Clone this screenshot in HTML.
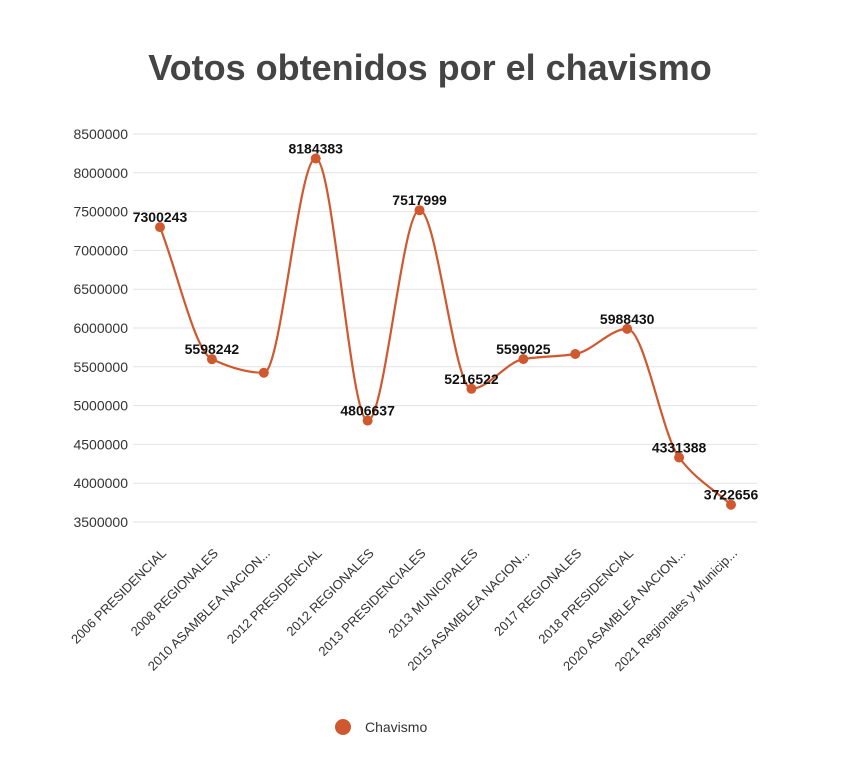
<!DOCTYPE html>
<html><head><meta charset="utf-8">
<style>
body{margin:0;background:#fff;}
svg{display:block;font-family:"Liberation Sans",Arial,sans-serif;}
</style></head>
<body>
<svg id="chart" width="855" height="757" viewBox="0 0 855 757">
<text x="430" y="80" text-anchor="middle" font-size="36" font-weight="bold" fill="#444">Votos obtenidos por el chavismo</text>
<g id="grid"></g>
<g id="yticks"></g>
<g id="xticks"></g>
<path id="line" fill="none" stroke="#d0582f" stroke-width="2.2"></path>
<g id="points"></g>
<g id="vlabels"></g>
<g>
<circle cx="343" cy="727" r="8" fill="#d0582f"/>
<text x="365" y="732" font-size="14" fill="#333">Chavismo</text>
</g>
</svg>
<script>
const categories=["2006 PRESIDENCIAL","2008 REGIONALES","2010 ASAMBLEA NACION...","2012 PRESIDENCIAL","2012 REGIONALES","2013 PRESIDENCIALES","2013 MUNICIPALES","2015 ASAMBLEA NACION...","2017 REGIONALES","2018 PRESIDENCIAL","2020 ASAMBLEA NACION...","2021 Regionales y Municip..."];
const values=[7300243,5598242,5423000,8184383,4806637,7517999,5216522,5599025,5665000,5988430,4331388,3722656];
const showLabel=[true,true,false,true,true,true,true,true,false,true,true,true];
const yTicks=[3500000,4000000,4500000,5000000,5500000,6000000,6500000,7000000,7500000,8000000,8500000];
const NS="http://www.w3.org/2000/svg";
const yMin=3500000,yMax=8500000,yTop=134,yBot=522,xLeft=133,xRight=757;
const x0=160,x1=731;
function xs(i){return x0+(x1-x0)*i/(categories.length-1);}
function ys(v){return yBot-(v-yMin)/(yMax-yMin)*(yBot-yTop);}
function mk(tag,attrs,parent){const e=document.createElementNS(NS,tag);for(const k in attrs)e.setAttribute(k,attrs[k]);document.getElementById(parent).appendChild(e);return e;}
yTicks.forEach(t=>{
  const l=mk('line',{x1:xLeft,x2:xRight,y1:ys(t),y2:ys(t),stroke:'#e2e2e2','stroke-width':1},'grid');
  
  
  const tx=mk('text',{x:128,y:ys(t)+5,'text-anchor':'end','font-size':14,fill:'#333'},'yticks');
  tx.textContent=t;
  
  
});
categories.forEach((c,i)=>{
  const x=xs(i)+7,y=554;
  const tx=mk('text',{x:x,y:y,'text-anchor':'end','font-size':13,fill:'#333',transform:`rotate(-45 ${x} ${y})`},'xticks');
  tx.textContent=c;
  
  
});
const P=values.map((v,i)=>[xs(i),ys(v)]);
const n=P.length;
const dk=[],m=[];
for(let i=0;i<n-1;i++)dk.push((P[i+1][1]-P[i][1])/(P[i+1][0]-P[i][0]));
m[0]=dk[0];m[n-1]=dk[n-2];
for(let i=1;i<n-1;i++){
  if(dk[i-1]*dk[i]<=0)m[i]=0;
  else{m[i]=2/(1/dk[i-1]+1/dk[i]);}
}
let d=`M${P[0][0]},${P[0][1]}`;
for(let i=0;i<n-1;i++){
  const h=(P[i+1][0]-P[i][0])/3;
  d+=` C${P[i][0]+h},${P[i][1]+m[i]*h} ${P[i+1][0]-h},${P[i+1][1]-m[i+1]*h} ${P[i+1][0]},${P[i+1][1]}`;
}
document.getElementById('line').setAttribute('d',d);
values.forEach((v,i)=>{
  const c=mk('circle',{cx:xs(i),cy:ys(v),r:5,fill:'#d0582f'},'points');
  
  
  if(showLabel[i]){
    const t=mk('text',{x:xs(i),y:ys(v)-5,'text-anchor':'middle','font-size':14,'font-weight':'bold',fill:'#111'},'vlabels');
    t.textContent=v;
    
    
  }
});
</script>
</body></html>
